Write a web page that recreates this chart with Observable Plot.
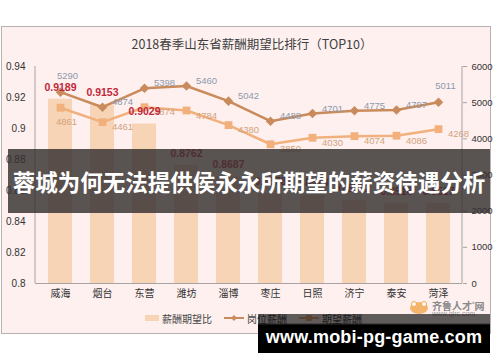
<!DOCTYPE html>
<html>
<head>
<meta charset="utf-8">
<script src="https://cdn.jsdelivr.net/npm/d3@7"></script>
<script src="https://cdn.jsdelivr.net/npm/@observablehq/plot@0.6"></script>
<style>
  html, body { margin: 0; padding: 0; background: #fff; }
  #wrap { position: relative; width: 500px; height: 362px; overflow: hidden; font-family: "Liberation Sans", "Noto Sans CJK SC", sans-serif; }
  #frame { position: absolute; left: 1px; top: 26px; width: 488px; height: 306px; background: #fdf0ef; border: 1px solid #b9b1b0; }
  #title { position: absolute; left: 0; top: 34px; width: 504px; text-align: center; font: 12.5px "Noto Sans CJK SC", sans-serif; color: #404040; }
  #chart { position: absolute; left: 0; top: 0; }
  #legend { position: absolute; top: 310px; left: 145px; height: 16px; font: 10px "Noto Sans CJK SC", sans-serif; color: #444; display: flex; align-items: center; white-space: nowrap; }
  #legend .item { display: flex; align-items: center; margin-right: 12px; }
  #legend svg { margin-right: 3px; }
  #logo { position: absolute; left: 408px; top: 298px; width: 85px; height: 20px; }
  #banner { position: absolute; left: 8px; top: 149px; width: 482px; height: 64px; background: rgba(52,48,48,0.82); color: #fff; font: bold 22.5px "Noto Sans CJK SC", sans-serif; line-height: 64px; text-align: center; white-space: nowrap; }
  #wm { position: absolute; left: 258px; top: 314px; width: 232px; height: 39px; background: linear-gradient(to bottom, rgba(0,0,0,0.62) 0px, rgba(0,0,0,0.62) 9px, #000 11px); color: #fff; font: bold 18px "Liberation Sans", sans-serif; text-align: center; line-height: 22px; box-sizing: border-box; }
  #wm span { display: block; margin-top: 12px; letter-spacing: 0.2px; }
</style>
</head>
<body>
<div id="wrap">
  <div id="frame"></div>
  <div id="title">2018春季山东省薪酬期望比排行（TOP10）</div>
  <div id="chart"></div>
  <div id="legend"></div>
  <div id="logo">
    <svg width="85" height="20" style="position:absolute;left:0;top:0">
      <ellipse cx="11" cy="10" rx="9" ry="6" fill="#f2a54a" opacity="0.8"/>
      <circle cx="6" cy="6" r="2.5" fill="#fff" stroke="#f2a54a"/>
      <circle cx="16" cy="6" r="2.5" fill="#fff" stroke="#f2a54a"/>
    </svg>
    <div style="position:absolute;left:24px;top:0px;font:bold 10px 'Noto Sans CJK SC',sans-serif;color:#8a8a8a;white-space:nowrap">齐鲁人才<sup style="font-size:5px">®</sup>网</div>
    <div style="position:absolute;left:24px;top:12px;font:7px 'Liberation Sans',sans-serif;color:#9a9a9a;white-space:nowrap">www.qlrc.com</div>
  </div>
  <div id="banner">蓉城为何无法提供侯永永所期望的薪资待遇分析</div>
  <div id="wm"><span>www.mobi-pg-game.com</span></div>
</div>
<script>
// ---- data ----
const cities = ["威海", "烟台", "东营", "潍坊", "淄博", "枣庄", "日照", "济宁", "泰安", "菏泽"];
const ratio = [0.9189, 0.9153, 0.9029, 0.8762, 0.8687, 0.8578, 0.8573, 0.8532, 0.8518, 0.8517]; // 薪酬期望比
const postPay = [5290, 4874, 5398, 5460, 5042, 4488, 4701, 4775, 4797, 5011];   // 岗位薪酬
const expectPay = [4861, 4461, 4874, 4784, 4380, 3850, 4030, 4074, 4086, 4268]; // 期望薪酬
const leftTicks = [0.8, 0.82, 0.84, 0.86, 0.88, 0.9, 0.92, 0.94];
const rightTicks = [0, 1000, 2000, 3000, 4000, 5000, 6000];
const seriesNames = ["薪酬期望比", "岗位薪酬", "期望薪酬"];

// ---- styles ----
const barColor = "#f8d4b6";
const postColor = "#c98a5c";
const expectColor = "#f1b07c";
const ratioLabelColor = "#c0283a";
const postLabelColor = "#8d9aab";
const expectLabelColor = "#d3a27c";
const axisColor = "#a9a2a2";

// secondary axis (0–6000) mapped onto the primary ratio domain (0.8–0.94)
const yMin = 0.8, yMax = 0.94, rMax = 6000;
const toLeft = v => yMin + v / rMax * (yMax - yMin);
const toRight = y => Math.round((y - yMin) / (yMax - yMin) * rMax);

const table = cities.map((c, i) => ({i, city: c, ratio: ratio[i], post: postPay[i], expect: expectPay[i]}));

const chart = Plot.plot({
  width: 500,
  height: 310,
  marginTop: 66,
  marginBottom: 27,
  marginLeft: 35,
  marginRight: 38,
  style: {background: "transparent", fontFamily: "'Liberation Sans', 'Noto Sans CJK SC', sans-serif", color: "#333"},
  x: {domain: cities, paddingInner: 0.44, paddingOuter: 0.22, label: null},
  y: {domain: [yMin, yMax], label: null},
  marks: [
    Plot.barY(table, {x: "city", y1: yMin, y2: "ratio", fill: barColor}),
    Plot.ruleY([yMin], {stroke: axisColor, strokeWidth: 1}),
    Plot.axisX({tickSize: 0, tickPadding: 6, fontSize: 10, fontFamily: "'Noto Sans CJK SC', sans-serif", fill: "#333", label: null}),
    Plot.axisY({anchor: "left", ticks: leftTicks, tickSize: 0, tickPadding: 10, fontSize: 10, fill: "#333", label: null,
      tickFormat: d => String(+d.toFixed(2))}),
    Plot.axisY({anchor: "right", ticks: rightTicks.map(toLeft), tickSize: 4, tickPadding: 5, fontSize: 9.5, fill: "#333", stroke: axisColor, label: null,
      tickFormat: d => String(toRight(d))}),
    // 岗位薪酬 line
    Plot.line(table, {x: "city", y: d => toLeft(d.post), stroke: postColor, strokeWidth: 2.5}),
    Plot.dot(table, {x: "city", y: d => toLeft(d.post), symbol: "diamond2", r: 4.3, fill: postColor, stroke: "none"}),
    // 期望薪酬 line
    Plot.line(table, {x: "city", y: d => toLeft(d.expect), stroke: expectColor, strokeWidth: 2.5}),
    Plot.dot(table, {x: "city", y: d => toLeft(d.expect), symbol: "square", r: 4.4, fill: expectColor, stroke: "none"}),
    // value labels for 岗位薪酬
    Plot.text(table, {filter: d => d.i === 0 || d.i === 9, x: "city", y: d => toLeft(d.post), text: d => String(d.post),
      dx: 7, dy: -16, fill: postLabelColor, fontSize: 9.5}),
    Plot.text(table, {filter: d => d.i !== 0 && d.i !== 9, x: "city", y: d => toLeft(d.post), text: d => String(d.post),
      dx: 20, dy: -5, fill: postLabelColor, fontSize: 9.5}),
    // value labels for 期望薪酬
    Plot.text(table, {filter: d => d.i === 0, x: "city", y: d => toLeft(d.expect), text: d => String(d.expect),
      dx: 6, dy: 14, fill: expectLabelColor, fontSize: 9.5}),
    Plot.text(table, {filter: d => d.i !== 0, x: "city", y: d => toLeft(d.expect), text: d => String(d.expect),
      dx: 20, dy: 5, fill: expectLabelColor, fontSize: 9.5}),
    // ratio labels
    Plot.text(table, {x: "city", y: "ratio", text: d => d.ratio.toFixed(4), dy: -12, fill: ratioLabelColor,
      fontSize: 10.5, fontWeight: "bold"})
  ]
});
document.getElementById("chart").appendChild(chart);

// vertical axis lines at the two edges of the x range
const xr = chart.scale("x").range, yr = chart.scale("y").range;
const svg = d3.select(chart);
[xr[0], xr[1]].forEach(x => {
  svg.append("line").attr("x1", x).attr("x2", x).attr("y1", yr[0]).attr("y2", yr[1])
    .attr("stroke", axisColor).attr("stroke-width", 1);
});

// legend
const lg = d3.select("#legend");
const it0 = lg.append("div").attr("class", "item");
it0.append("svg").attr("width", 14).attr("height", 8).append("rect").attr("x", 0).attr("y", 1).attr("width", 14).attr("height", 6).attr("fill", barColor);
it0.append("span").text(seriesNames[0]);
const it1 = lg.append("div").attr("class", "item");
const s1 = it1.append("svg").attr("width", 20).attr("height", 8);
s1.append("line").attr("x1", 0).attr("x2", 20).attr("y1", 4).attr("y2", 4).attr("stroke", postColor).attr("stroke-width", 2);
s1.append("path").attr("d", "M10,1L13,4L10,7L7,4Z").attr("fill", postColor);
it1.append("span").text(seriesNames[1]);
const it2 = lg.append("div").attr("class", "item");
const s2 = it2.append("svg").attr("width", 20).attr("height", 8);
s2.append("line").attr("x1", 0).attr("x2", 20).attr("y1", 4).attr("y2", 4).attr("stroke", expectColor).attr("stroke-width", 2);
s2.append("rect").attr("x", 7).attr("y", 1).attr("width", 6).attr("height", 6).attr("fill", expectColor);
it2.append("span").text(seriesNames[2]);
</script>
</body>
</html>
